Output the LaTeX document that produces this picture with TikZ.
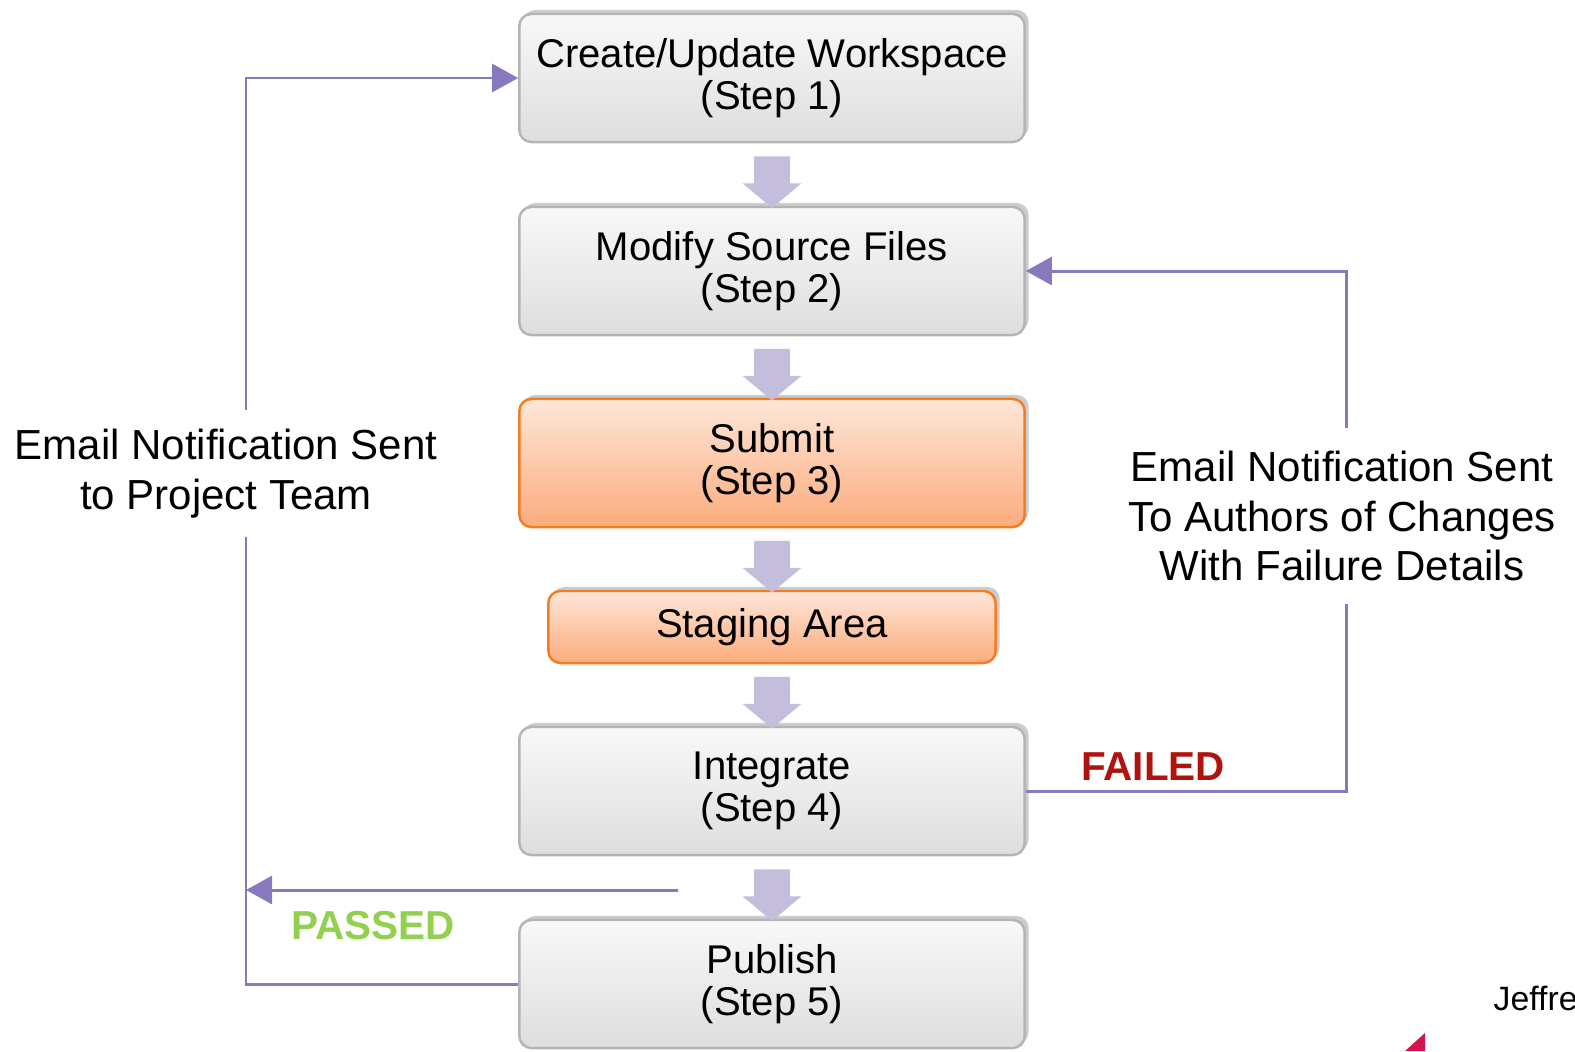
\documentclass[tikz,border=0pt]{standalone}
\usepackage{fontspec}
\setmainfont{Liberation Sans}
\usetikzlibrary{shapes.arrows,shadows,arrows.meta}
\definecolor{flowline}{RGB}{136,120,189}
\definecolor{blockfill}{RGB}{196,190,220}
\definecolor{greyedge}{RGB}{180,180,180}
\definecolor{greytop}{RGB}{248,248,248}
\definecolor{greybot}{RGB}{222,222,222}
\definecolor{orangeedge}{RGB}{244,124,36}
\definecolor{orangetop}{RGB}{254,230,216}
\definecolor{orangebot}{RGB}{251,172,124}
\definecolor{failred}{RGB}{176,18,14}
\definecolor{passgreen}{RGB}{146,208,80}
\definecolor{wedgered}{RGB}{212,20,80}
\tikzset{
  stepbox/.style={draw=greyedge,line width=0.7pt,rounded corners=0.12cm,
    top color=greytop,bottom color=greybot,minimum width=5.05cm,minimum height=1.28cm,
    align=center,font=\fontsize{11.4}{11.95}\selectfont,
    drop shadow={opacity=0.4,shadow xshift=0.04cm,shadow yshift=0.04cm}},
  hotbox/.style={stepbox,draw=orangeedge,top color=orangetop,bottom color=orangebot},
  downarrow/.style={single arrow,fill=blockfill,draw=none,rotate=-90,inner sep=0.175cm,
    minimum height=0.48cm,single arrow head extend=0.11cm,single arrow tip angle=100},
  flow/.style={draw=flowline,line width=0.85pt},
  flowarrow/.style={flow,-{Triangle[length=0.26cm,width=0.28cm]}},
  sidenote/.style={align=center,font=\fontsize{11.95}{14.2}\selectfont},
  verdict/.style={font=\fontsize{11.5}{12}\selectfont\bfseries}
}
\begin{document}
\begin{tikzpicture}[x=0.01cm,y=-0.01cm]
  \useasboundingbox (0,0) rectangle (1575,1051);
  % steps
  \node[stepbox] (b1) at (772,78) {Create/Update Workspace\\(Step 1)};
  \node[stepbox] (b2) at (772,271) {Modify Source Files\\(Step 2)};
  \node[hotbox] (b3) at (772,463) {Submit\\(Step 3)};
  \node[hotbox,minimum width=4.47cm,minimum height=0.72cm] (stage) at (772,627) {Staging Area};
  \node[stepbox] (b4) at (772,791) {Integrate\\(Step 4)};
  \node[stepbox] (b5) at (772,984) {Publish\\(Step 5)};
  % block arrows
  \foreach \a/\b in {b1/b2,b2/b3,b3/stage,stage/b4,b4/b5}
    \path (\a.south) -- (\b.north) node[midway,downarrow] {};
  % notes
  \node[sidenote] (leftnote) at (226,474) {Email Notification Sent\\to Project Team};
  \node[sidenote] (rightnote) at (1342,516) {Email Notification Sent\\To Authors of Changes\\With Failure Details};
  \node[verdict,text=failred] (failed) at (1153,767) {FAILED};
  \node[verdict,text=passgreen] (passed) at (373,926) {PASSED};
  % feedback lines
  \coordinate (lbot) at (246,537);
  \coordinate (ltop) at (246,410);
  \coordinate (rbot) at (1346,604);
  \coordinate (rtop) at (1346,428);
  \coordinate (pstart) at (678,890);
  \draw[flow] (b5.west) -| (lbot);
  \draw[flowarrow] (ltop) |- (b1.west);
  \draw[flowarrow] (pstart) -- (pstart -| lbot);
  \draw[flow] (b4.east) -| (rbot);
  \draw[flowarrow] (rtop) |- (b2.east);
  % corner bits
  \node[anchor=west,inner sep=0pt,font=\fontsize{9.6}{11}\selectfont] (author) at (1493,998) {Jeffre};
  \fill[wedgered] (1405,1051) -- (1425,1033) -- (1425,1051) -- cycle;
\end{tikzpicture}
\end{document}
